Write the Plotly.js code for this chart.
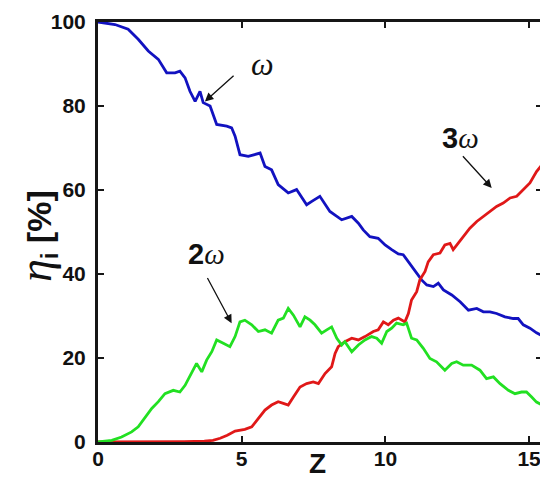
<!DOCTYPE html>
<html>
<head>
<meta charset="utf-8">
<script src="https://cdn.plot.ly/plotly-3.0.1.min.js"></script>
<style>
html,body{margin:0;padding:0;overflow:hidden;background:#fff;width:540px;height:478px;}
#chart{width:546px;height:478px;}
</style>
</head>
<body>
<div id="chart"></div>
<script>
// ---- data ----
var zOmega = [0, 0.59, 1.05, 1.4, 1.75, 2.1, 2.39, 2.68, 2.85, 3.03, 3.2, 3.38, 3.55, 3.66, 3.9, 4.13, 4.48, 4.65, 4.77, 4.94, 5.23, 5.46, 5.64, 5.81, 6.04, 6.27, 6.62, 6.91, 7.26, 7.44, 7.72, 8.07, 8.48, 8.83, 9.06, 9.23, 9.46, 9.75, 9.99, 10.22, 10.45, 10.62, 10.8, 11.03, 11.26, 11.44, 11.67, 11.84, 12.02, 12.31, 12.6, 12.89, 13.18, 13.41, 13.64, 13.87, 14.16, 14.45, 14.62, 14.8, 15.03, 15.26, 15.45];
var etaOmega = [100, 99.4, 98.3, 95.9, 93.1, 91.1, 87.9, 87.9, 88.3, 86.7, 83.5, 81.1, 83.5, 80.8, 80, 75.6, 75.2, 74.8, 72.8, 68.4, 68, 68.4, 68.8, 65.6, 64.8, 61.3, 59.3, 60.1, 56.5, 57.3, 58.5, 54.9, 52.9, 53.7, 52.1, 50.5, 48.9, 48.5, 46.9, 45.8, 44.8, 44.6, 42.9, 41, 38.6, 37.4, 37, 37.8, 36.2, 35, 33.4, 31.4, 31.8, 31, 31, 30.6, 29.8, 29.4, 29.4, 27.9, 27.1, 26, 25.3];

var z2Omega = [0, 0.48, 0.82, 1.17, 1.4, 1.64, 1.87, 2.1, 2.33, 2.62, 2.85, 3.03, 3.26, 3.43, 3.61, 3.78, 3.96, 4.13, 4.36, 4.59, 4.77, 4.94, 5.11, 5.35, 5.58, 5.81, 6.04, 6.27, 6.45, 6.62, 6.8, 7.03, 7.2, 7.38, 7.55, 7.78, 7.96, 8.13, 8.31, 8.48, 8.59, 8.83, 9.06, 9.29, 9.52, 9.7, 9.87, 10.05, 10.22, 10.39, 10.62, 10.74, 10.91, 11.09, 11.32, 11.55, 11.78, 12.07, 12.31, 12.48, 12.71, 13.0, 13.29, 13.52, 13.76, 13.99, 14.28, 14.51, 14.74, 14.91, 15.09, 15.26, 15.45];
var eta2Omega = [0, 0.4, 1.2, 2.4, 3.6, 6, 8, 9.6, 11.5, 12.3, 11.9, 13.5, 16.3, 18.7, 16.7, 19.5, 21.5, 24.3, 23.5, 22.7, 25.1, 28.6, 29, 27.9, 26.3, 26.7, 25.9, 29, 29.5, 31.8, 30.2, 27.4, 29.8, 29, 27.9, 25.9, 26.7, 27.4, 24.7, 23.1, 23.9, 21.5, 23.1, 24.3, 25.1, 24.7, 23.5, 26.3, 27.1, 28.3, 27.9, 28.3, 24.7, 24.3, 22.3, 19.9, 19.1, 17.1, 18.7, 19.1, 18.3, 18.3, 17.1, 15.1, 15.5, 13.9, 12.3, 11.5, 11.9, 11.9, 10.7, 9.5, 8.8];

var z3Omega = [0, 1, 2, 3, 3.7, 4.0, 4.25, 4.5, 4.77, 5.11, 5.35, 5.58, 5.81, 6.04, 6.27, 6.45, 6.62, 6.8, 7.03, 7.26, 7.49, 7.67, 7.9, 8.13, 8.25, 8.36, 8.59, 8.83, 9.06, 9.29, 9.58, 9.75, 9.93, 10.1, 10.28, 10.45, 10.68, 10.8, 10.91, 11.09, 11.2, 11.38, 11.49, 11.67, 11.9, 12.07, 12.25, 12.36, 12.54, 12.71, 12.94, 13.18, 13.41, 13.64, 13.87, 14.1, 14.34, 14.57, 14.8, 15.03, 15.26, 15.45];
var eta3Omega = [0, 0, 0, 0.1, 0.2, 0.4, 0.9, 1.6, 2.6, 3.0, 3.6, 5.6, 7.6, 8.8, 9.6, 9.2, 8.8, 10.7, 13.1, 13.9, 14.3, 13.9, 16.3, 17.9, 21.1, 22.7, 23.9, 24.7, 24.3, 25.1, 26.3, 26.7, 28.6, 27.9, 29, 29.5, 28.6, 30.6, 33.8, 35.8, 38.6, 40.6, 42.9, 44.6, 45, 46.9, 47.3, 45.8, 47.3, 48.9, 50.9, 52.5, 53.7, 54.9, 56.1, 56.9, 58.1, 58.5, 60.1, 61.7, 64.4, 66];

var xTicks = [0, 5, 10, 15];
var yTicks = [0, 20, 40, 60, 80, 100];
var seriesLabels = ['\u03c9', '2\u03c9', '3\u03c9'];

// ---- chart ----
var traces = [
  {x: zOmega, y: etaOmega, name: seriesLabels[0], mode: 'lines', line: {color: '#1212c0', width: 2.8}},
  {x: z3Omega, y: eta3Omega, name: seriesLabels[2], mode: 'lines', line: {color: '#e01818', width: 2.8}},
  {x: z2Omega, y: eta2Omega, name: seriesLabels[1], mode: 'lines', line: {color: '#22e022', width: 2.8}}
];

var tickFont = {family: 'Liberation Sans, Arial, sans-serif', size: 21, color: '#111', weight: 'bold'};
var axisCommon = {
  showline: true, linewidth: 3, linecolor: '#161616', mirror: 'ticks',
  ticks: 'inside', ticklen: 6, tickwidth: 2, tickcolor: '#161616',
  showgrid: false, zeroline: false, tickfont: tickFont
};

var omegaSpan = function(t){ return '<span style="font-family:\'Liberation Serif\',serif;font-style:italic;font-weight:normal">' + t + '</span>'; };

var layout = {
  width: 546, height: 478,
  margin: {l: 98, r: 4, t: 22, b: 36},
  paper_bgcolor: '#ffffff', plot_bgcolor: '#ffffff',
  showlegend: false,
  xaxis: Object.assign({}, axisCommon, {range: [0, 15.45], tickmode: 'array', tickvals: xTicks, ticktext: xTicks.map(String), ticklabelstandoff: -4}),
  yaxis: Object.assign({}, axisCommon, {range: [0, 100], tickmode: 'array', tickvals: yTicks, ticktext: yTicks.map(String), ticklabelstandoff: 5}),
  annotations: [
    // axis titles
    {xref: 'x', yref: 'paper', x: 7.65, y: -0.05, yanchor: 'middle', xanchor: 'center', showarrow: false,
     text: '<b>Z</b>', font: {family: 'Liberation Sans, Arial, sans-serif', size: 28, color: '#111'}},
    {xref: 'paper', yref: 'paper', x: -0.14, y: 0.49, xanchor: 'center', yanchor: 'middle', showarrow: false, textangle: -90,
     text: '<span style="font-family:\'Liberation Serif\',serif;font-style:italic;font-size:46px">\u03b7</span><sub><b>i</b></sub> <b>[%]</b>',
     font: {family: 'Liberation Sans, Arial, sans-serif', size: 34, color: '#111'}},
    // series labels
    {xref: 'x', yref: 'y', x: 5.71, y: 89.9, showarrow: false, text: omegaSpan('\u03c9'),
     font: {family: 'Liberation Serif, serif', size: 32, color: '#111'}},
    {xref: 'x', yref: 'y', x: 12.63, y: 72.5, showarrow: false, text: '<b>3</b>' + omegaSpan('\u03c9'),
     font: {family: 'Liberation Sans, Arial, sans-serif', size: 29, color: '#111'}},
    {xref: 'x', yref: 'y', x: 3.76, y: 44.8, showarrow: false, text: '<b>2</b>' + omegaSpan('\u03c9'),
     font: {family: 'Liberation Sans, Arial, sans-serif', size: 29, color: '#111'}},
    // arrows
    {xref: 'x', yref: 'y', axref: 'x', ayref: 'y', x: 3.72, y: 81.1, ax: 4.77, ay: 87.5, text: '', showarrow: true,
     arrowhead: 2, arrowsize: 1.3, arrowwidth: 1.3, arrowcolor: '#111'},
    {xref: 'x', yref: 'y', axref: 'x', ayref: 'y', x: 13.7, y: 60.5, ax: 12.65, ay: 68.4, text: '', showarrow: true,
     arrowhead: 2, arrowsize: 1.3, arrowwidth: 1.3, arrowcolor: '#111'},
    {xref: 'x', yref: 'y', axref: 'x', ayref: 'y', x: 4.65, y: 28.3, ax: 3.78, ay: 39.4, text: '', showarrow: true,
     arrowhead: 2, arrowsize: 1.3, arrowwidth: 1.3, arrowcolor: '#111'}
  ]
};

Plotly.newPlot('chart', traces, layout, {displayModeBar: false, staticPlot: true});
</script>
</body>
</html>
